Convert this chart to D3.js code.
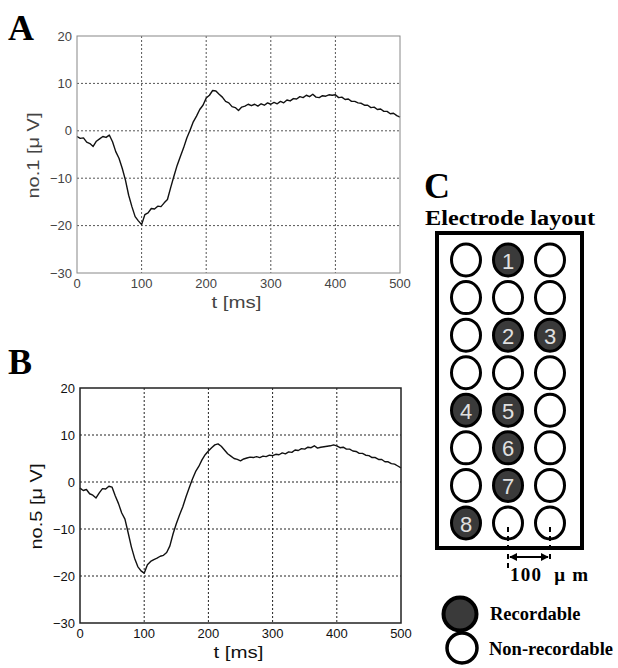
<!DOCTYPE html>
<html><head><meta charset="utf-8">
<script src="https://cdn.jsdelivr.net/npm/d3@7"></script>
<style>body{margin:0;background:#fff}svg{display:block}</style>
</head><body>
<svg id="c" width="618" height="668"></svg>
<script>
const timeMs = d3.range(0, 501, 5);
const xTicks = [0,100,200,300,400,500];
const yTicks = [-30,-20,-10,0,10,20];
const vNo1 = [-1.2,-1.6,-1.5,-2.4,-2.7,-3.3,-2.2,-1.7,-1.2,-1.4,-0.9,-2.3,-4.4,-5.8,-7.9,-10.4,-13.6,-16.0,-18.1,-19.0,
 -19.8,-17.7,-17.3,-16.4,-16.5,-15.9,-16.0,-15.2,-14.5,-12.0,-9.6,-7.3,-5.4,-3.6,-1.5,0.1,1.9,3.1,4.5,5.4,
 6.9,7.5,8.5,8.4,7.7,7.1,6.2,5.9,5.1,4.9,4.3,5.0,5.2,5.6,5.3,5.6,5.2,5.7,5.4,5.9,
 5.6,6.0,5.7,6.2,5.9,6.5,6.3,6.8,6.7,7.2,7.0,7.5,7.2,7.7,7.1,7.0,7.4,7.3,7.6,7.5,
 7.6,7.0,7.1,6.6,6.7,6.2,6.2,5.9,5.8,5.4,5.4,4.9,5.0,4.5,4.6,4.1,4.1,3.6,3.7,3.2,2.9];
const vNo5 = [-1.3,-1.8,-1.6,-2.5,-2.8,-3.4,-2.3,-1.4,-1.5,-0.9,-1.1,-3.0,-4.6,-6.6,-7.9,-10.8,-13.8,-16.2,-18.0,-18.9,
 -19.4,-17.6,-16.9,-16.5,-16.2,-15.8,-15.6,-15.0,-13.6,-11.0,-8.9,-7.0,-5.3,-3.2,-1.3,0.6,2.2,3.3,4.7,5.8,
 6.6,7.3,7.9,8.1,7.6,6.8,6.0,5.5,5.0,4.8,4.5,4.9,5.1,5.3,5.2,5.4,5.2,5.5,5.4,5.7,
 5.6,5.9,5.8,6.2,6.0,6.4,6.3,6.8,6.7,7.1,7.0,7.4,7.3,7.7,7.2,7.4,7.5,7.6,7.7,7.9,
 7.7,7.3,7.4,7.0,7.0,6.6,6.5,6.1,6.1,5.7,5.6,5.2,5.2,4.8,4.8,4.3,4.3,3.9,3.8,3.4,3.0];

// electrode layout: 8 rows x 3 cols, label = recordable channel number, "" = non-recordable
const electrodeRows = d3.range(8);
const electrodeCols = d3.range(3);
const electrodeLabels = [
 ["","1",""],
 ["","",""],
 ["","2","3"],
 ["","",""],
 ["4","5",""],
 ["","6",""],
 ["","7",""],
 ["8","",""]
];

const svg = d3.select("#c");
const sans = "'Liberation Sans', Arial, sans-serif";
const serif = "'Liberation Serif', 'Times New Roman', serif";

function panel(o){
  const x = d3.scaleLinear().domain([0,500]).range([o.x0,o.x1]);
  const y = d3.scaleLinear().domain([-30,20]).range([o.y1,o.y0]);
  const g = svg.append("g");
  g.selectAll(".gx").data(xTicks.slice(1,-1)).join("line")
    .attr("x1",d=>x(d)).attr("x2",d=>x(d)).attr("y1",o.y0).attr("y2",o.y1)
    .attr("stroke",o.grid).attr("stroke-width",1).attr("stroke-dasharray","2,2");
  g.selectAll(".gy").data(yTicks.slice(1,-1)).join("line")
    .attr("y1",d=>y(d)).attr("y2",d=>y(d)).attr("x1",o.x0).attr("x2",o.x1)
    .attr("stroke",o.grid).attr("stroke-width",1).attr("stroke-dasharray","2,2");
  const line = d3.line().x((d,i)=>x(timeMs[i])).y(d=>y(d));
  g.append("path").datum(o.v).attr("d",line).attr("fill","none")
    .attr("stroke","#111").attr("stroke-width",1.4).attr("stroke-linejoin","round");
  g.append("rect").attr("x",o.x0).attr("y",o.y0).attr("width",o.x1-o.x0).attr("height",o.y1-o.y0)
    .attr("fill","none").attr("stroke",o.frame).attr("stroke-width",o.fw);
  g.selectAll(".tx").data(xTicks).join("text")
    .attr("x",d=>x(d)).attr("y",o.y1+15).attr("text-anchor","middle")
    .attr("font-family",sans).attr("font-size",13).attr("fill",o.txt).text(d=>d);
  g.selectAll(".ty").data(yTicks).join("text")
    .attr("x",o.x0-5).attr("y",d=>y(d)+4.5).attr("text-anchor","end")
    .attr("font-family",sans).attr("font-size",13).attr("fill",o.txt)
    .text(d=>d<0?"\u2212"+Math.abs(d):d);
  g.append("text").attr("x",(o.x0+o.x1)/2-2).attr("y",o.y1+35).attr("text-anchor","middle")
    .attr("font-family",sans).attr("font-size",16).attr("fill",o.txt)
    .attr("textLength",50).attr("lengthAdjust","spacingAndGlyphs").text("t [ms]");
  g.append("text").attr("transform",`translate(${o.x0-38},${(o.y0+o.y1)/2+1}) rotate(-90)`)
    .attr("text-anchor","middle").attr("font-family",sans).attr("font-size",16).attr("fill",o.txt)
    .attr("textLength",86).attr("lengthAdjust","spacingAndGlyphs")
    .text(o.ylab);
  svg.append("text").attr("x",8).attr("y",o.lettery).attr("font-family",serif).attr("font-weight","bold")
    .attr("font-size",36).attr("fill","#000").text(o.letter);
}

panel({x0:77,x1:400,y0:36,y1:273,v:vNo1,grid:"#555",frame:"#888",fw:1,txt:"#444",ylab:"no.1 [\u03bc V]",letter:"A",lettery:40});
panel({x0:80,x1:401,y0:388,y1:623,v:vNo5,grid:"#222",frame:"#222",fw:1.5,txt:"#111",ylab:"no.5 [\u03bc V]",letter:"B",lettery:374});

// Panel C
svg.append("text").attr("x",424).attr("y",198).attr("font-family",serif).attr("font-weight","bold")
  .attr("font-size",36).text("C");
svg.append("text").attr("x",425).attr("y",225).attr("font-family",serif).attr("font-weight","bold")
  .attr("font-size",20).attr("textLength",170).attr("lengthAdjust","spacingAndGlyphs").text("Electrode layout");

const cx = d3.scalePoint().domain(electrodeCols).range([466,550]);
const cy = d3.scalePoint().domain(electrodeRows).range([260,523]);

svg.append("rect").attr("x",437).attr("y",233).attr("width",145).attr("height",315)
  .attr("fill","none").attr("stroke","#000").attr("stroke-width",4);

const cells = [];
electrodeRows.forEach(r=>electrodeCols.forEach(c=>cells.push({r,c,label:electrodeLabels[r][c]})));
const eg = svg.append("g");
eg.selectAll("ellipse").data(cells).join("ellipse")
  .attr("cx",d=>cx(d.c)).attr("cy",d=>cy(d.r)).attr("rx",14.5).attr("ry",16)
  .attr("fill",d=>d.label?"#3a3a3a":"#fff").attr("stroke","#000").attr("stroke-width",3);
eg.selectAll("text").data(cells.filter(d=>d.label)).join("text")
  .attr("x",d=>cx(d.c)).attr("y",d=>cy(d.r)+8.5).attr("text-anchor","middle")
  .attr("font-family",sans).attr("font-size",22).attr("fill","#e0e0e0").text(d=>d.label);

// scale bar
const sx1 = cx(1), sx2 = cx(2), yb = cy(7);
[[sx1,yb+4,yb+46],[sx2,yb+4,yb+40]].forEach(a=>{
  svg.append("line").attr("x1",a[0]).attr("x2",a[0]).attr("y1",a[1]).attr("y2",a[2])
    .attr("stroke","#000").attr("stroke-width",2).attr("stroke-dasharray","5,4");
});
const defs = svg.append("defs");
defs.append("marker").attr("id","ah").attr("viewBox","0 0 10 10").attr("refX",9).attr("refY",5)
  .attr("markerWidth",4).attr("markerHeight",4).attr("orient","auto-start-reverse")
  .append("path").attr("d","M0,0L10,5L0,10z").attr("fill","#000");
svg.append("line").attr("x1",sx1+2).attr("x2",sx2-2).attr("y1",yb+34).attr("y2",yb+34)
  .attr("stroke","#000").attr("stroke-width",2)
  .attr("marker-start","url(#ah)").attr("marker-end","url(#ah)");
svg.append("text").attr("x",510).attr("y",581).attr("font-family",serif).attr("font-weight","bold")
  .attr("font-size",19).attr("textLength",78).attr("lengthAdjust","spacing").text("100 \u00a0\u03bc m");

// legend
svg.append("ellipse").attr("cx",460).attr("cy",614).attr("rx",16.5).attr("ry",16.5)
  .attr("fill","#3a3a3a").attr("stroke","#000").attr("stroke-width",4);
svg.append("ellipse").attr("cx",462).attr("cy",648).attr("rx",15).attr("ry",15)
  .attr("fill","#fff").attr("stroke","#000").attr("stroke-width",3.5);
svg.append("text").attr("x",490).attr("y",620).attr("font-family",serif).attr("font-weight","bold")
  .attr("font-size",18.5).text("Recordable");
svg.append("text").attr("x",489).attr("y",655).attr("font-family",serif).attr("font-weight","bold")
  .attr("font-size",18.5).text("Non-recordable");
</script>
</body></html>
